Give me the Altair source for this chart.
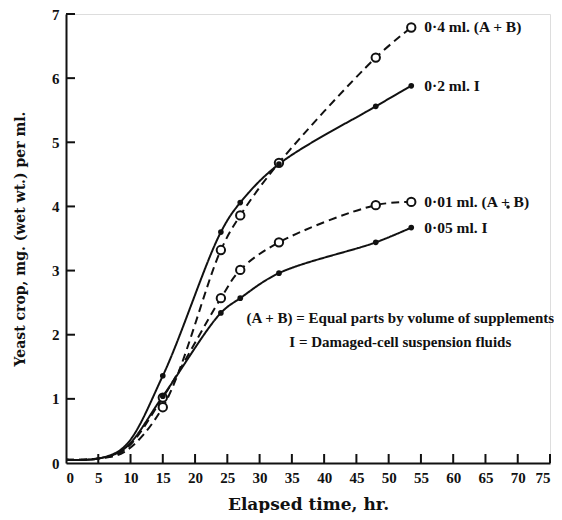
import altair as alt
import pandas as pd

# ---- data ----
TIMES = [0, 5, 9, 15, 24, 27, 33, 48, 53.5]
S_04_AB = [0.05, 0.07, 0.17, 0.87, 3.32, 3.86, 4.68, 6.32, 6.79]
S_02_I = [0.05, 0.07, 0.25, 1.36, 3.60, 4.06, 4.66, 5.56, 5.88]
S_001_AB = [0.05, 0.07, 0.20, 1.02, 2.57, 3.01, 3.44, 4.02, 4.07]
S_005_I = [0.05, 0.07, 0.22, 1.04, 2.34, 2.57, 2.96, 3.44, 3.67]
MARKED_FROM = 15  # markers drawn from this time on

SERIES = ["0·4 ml. (A + B)", "0·2 ml. I", "0·01 ml. (A + B)", "0·05 ml. I"]
VALUES = [S_04_AB, S_02_I, S_001_AB, S_005_I]
STYLE = ["dashed", "solid", "dashed", "solid"]

X_TICKS = list(range(0, 80, 5))
Y_TICKS = list(range(0, 8))

NOTE_LINES = ["(A + B) = Equal parts by volume of supplements",
              "I = Damaged-cell suspension fluids"]
NOTE_X = [51.8, 51.8]
NOTE_Y = [2.26, 1.89]

STRAY_X = [68.5]
STRAY_Y = [3.99]

rows = []
for name, vals, st in zip(SERIES, VALUES, STYLE):
    for t, v in zip(TIMES, vals):
        rows.append({"t": t, "y": v, "series": name, "style": st})
df = pd.DataFrame(rows)
marks = df[df["t"] >= MARKED_FROM]
last = df[df["t"] == TIMES[-1]]

FONT = "Liberation Serif"
TFONT = "DejaVu Serif"
INK = "#111111"

xs = alt.Scale(domain=[0, 75], nice=False)
ys = alt.Scale(domain=[0, 7], nice=False)

XAX = alt.Axis(values=X_TICKS, format="d", labelOverlap=False, tickCount=16,
               title="Elapsed time, hr.", titlePadding=11, labelPadding=7)
YAX = alt.Axis(values=Y_TICKS, format="d", labelOverlap=False, tickCount=8,
               title="Yeast crop, mg. (wet wt.) per ml.", titlePadding=24, labelPadding=7)


def X(f):
    return alt.X(f, scale=xs, axis=XAX, title="Elapsed time, hr.")


def Y(f):
    return alt.Y(f, scale=ys, axis=YAX, title="Yeast crop, mg. (wet wt.) per ml.")


lines = alt.Chart(df).mark_line(interpolate="catmull-rom", strokeWidth=2, color=INK).encode(
    x=X("t:Q"),
    y=Y("y:Q"),
    detail="series:N",
    strokeDash=alt.StrokeDash("style:N",
                              scale=alt.Scale(domain=["solid", "dashed"],
                                              range=[[1, 0], [8, 5]]),
                              legend=None),
)

open_pts = alt.Chart(marks).transform_filter(alt.datum.style == "dashed").mark_point(
    shape="circle", filled=True, fill="white", stroke=INK, strokeWidth=2, size=70, opacity=1
).encode(x=X("t:Q"), y=Y("y:Q"))

filled_pts = alt.Chart(marks).transform_filter(alt.datum.style == "solid").mark_circle(
    size=32, color=INK, opacity=1
).encode(x=X("t:Q"), y=Y("y:Q"))

labels = alt.Chart(last).mark_text(
    align="left", baseline="middle", dx=13, font=FONT, fontSize=15.5,
    fontWeight="bold", color=INK
).encode(x=X("t:Q"), y=Y("y:Q"), text="series:N")

note = alt.Chart(pd.DataFrame({"t": NOTE_X, "y": NOTE_Y, "txt": NOTE_LINES})).mark_text(
    align="center", baseline="middle", font=FONT, fontSize=15, fontWeight="bold", color=INK
).encode(x=X("t:Q"), y=Y("y:Q"), text="txt:N")

stray = alt.Chart(pd.DataFrame({"t": STRAY_X, "y": STRAY_Y})).mark_circle(
    size=12, color=INK, opacity=1
).encode(x=X("t:Q"), y=Y("y:Q"))

xtick_rules = alt.Chart(pd.DataFrame({"t": X_TICKS[1:]})).mark_rule(
    color=INK, strokeWidth=2
).encode(x=X("t:Q"), y=alt.value(449), y2=alt.value(440))

ytick_rules = alt.Chart(pd.DataFrame({"y": Y_TICKS[1:]})).mark_rule(
    color=INK, strokeWidth=2
).encode(y=Y("y:Q"), x=alt.value(0), x2=alt.value(9))

chart = alt.layer(
    lines, xtick_rules, ytick_rules, open_pts, filled_pts, labels, note, stray
).properties(
    width=484, height=449,
    autosize=alt.AutoSizeParams(type="none"),
    padding={"left": 58, "top": 6, "right": 4, "bottom": 50},
).configure_view(stroke=None).configure(background="white").configure_axis(
    grid=False, tickSize=0, domainColor=INK, domainWidth=2,
    labelFont=FONT, labelFontSize=15, labelFontWeight="bold", labelColor=INK,
    titleFont=TFONT, titleFontWeight="bold", titleColor=INK,
).configure_axisX(titleFontSize=17).configure_axisY(titleFontSize=14)

chart.save("out.html", embed_options={"renderer": "svg", "actions": False})
